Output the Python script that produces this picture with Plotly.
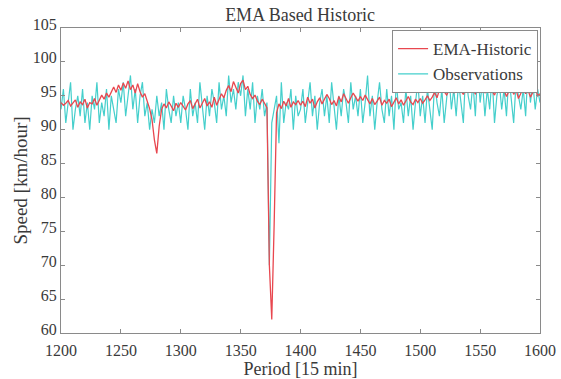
import plotly.graph_objects as go

periods = list(range(1200, 1601, 2))

observations = [
    93, 96, 91, 94, 97, 90, 93, 95, 92, 96, 91, 94, 90, 95, 93, 97, 91, 94, 92, 96, 90, 95, 93, 91, 96,
    94, 97, 92, 95, 98, 93, 96, 91, 95, 97, 92, 94, 90, 93, 91, 95, 92, 94, 90, 96, 93, 91, 95, 92, 94,
    91, 95, 93, 90, 96, 92, 94, 91, 97, 93, 90, 95, 92, 96, 94, 91, 97, 93, 95, 92, 98, 94, 96, 93, 97,
    95, 98, 92, 96, 93, 97, 91, 95, 93, 96, 92, 94, 70, 91, 93, 95, 88, 97, 91, 94, 93, 96, 90, 95, 92,
    93, 96, 91, 94, 97, 92, 95, 90, 94, 96, 92, 95, 91, 97, 93, 90, 95, 92, 96, 94, 91, 97, 93, 95, 92,
    96, 91, 94, 98, 92, 95, 90, 94, 97, 93, 91, 96, 92, 95, 90, 97, 93, 94, 91, 96, 92, 95, 90, 94, 97,
    92, 95, 91, 96, 93, 90, 97, 94, 92, 96, 91, 95, 98, 93, 96, 92, 97, 94, 91, 99, 95, 93, 97, 92, 99,
    94, 97, 92, 96, 93, 98, 91, 95, 97, 93, 96, 92, 98, 94, 91, 97, 95, 93, 96, 92, 99, 94, 97, 93, 96,
    94,
]

ema_historic = [
    94, 93.6, 93.9, 94.3, 93.5, 94, 94.4, 93.3, 94.1, 93.7, 94.5, 93.2, 94, 93.8, 94.6, 93.6, 94.3, 95.1, 94.5, 95.4, 94.8, 95.7, 96.3, 95.5, 96.6,
    95.8, 96.9, 96.1, 97.2, 95.9, 96.6, 95.4, 96.8, 95.6, 94.8, 95.3, 94.2, 93.1, 91.5, 88.5, 86.5, 90.5, 93, 93.8, 93.2, 94.1, 93.5, 92.8, 93.9, 93.3,
    94, 93.4, 92.9, 93.8, 94.3, 93.1, 93.7, 94.5, 93.2, 93.9, 94.6, 93.5, 94.1, 93.3, 94.8, 93.6, 94.4, 95.3, 94.7, 95.8, 96.5, 95.6, 97.1, 96.2, 95.4,
    96.8, 97.3, 95.9, 96.4, 95.2, 94.6, 95.1, 94.2, 93.7, 94.5, 93.9, 93.2, 70, 62, 76, 92.5, 93.8, 93.1, 94.2, 93.5, 94.6, 93.3, 94.1, 93.7, 94.3,
    93.6, 94.2, 93.4, 94.8, 93.9, 94.5, 93.2, 94.1, 94.7, 93.8, 94.4, 95.2, 94.6, 93.7, 94.3, 93.5, 94.9, 94.1, 95.3, 94.6, 93.9, 94.7, 95.4, 94.8, 94.2,
    94.9, 94.3, 95.1, 94.4, 93.8, 94.6, 93.7, 94.2, 94.8, 93.6, 94.3, 93.9, 94.5, 93.4, 94.1, 94.7, 93.8, 94.4, 93.6, 94.2, 94.9, 94.1, 93.7, 94.5, 94.0,
    94.6, 93.9, 94.4, 95.0, 94.3, 94.8, 95.5, 94.7, 95.9, 96.3, 95.6, 95.1, 95.8, 96.2, 95.4, 95.9, 96.4, 95.7, 95.2, 96.1, 95.5, 96.3, 95.8, 95.3, 96.0,
    95.6, 96.2, 95.4, 95.9, 96.5, 95.7, 95.1, 96.0, 95.5, 96.3, 95.8, 94.9, 95.6, 96.4, 95.2, 95.9, 94.6, 95.4, 96.1, 95.3, 95.8, 94.8, 95.6, 96.2, 95.0,
    95.3,
]

x_ticks = [1200, 1250, 1300, 1350, 1400, 1450, 1500, 1550, 1600]
y_ticks = [60, 65, 70, 75, 80, 85, 90, 95, 100, 105]

font_family = "Liberation Serif, Times New Roman, serif"
text_color = "#3a3a3a"

fig = go.Figure()
fig.add_trace(go.Scatter(
    x=periods, y=observations, mode="lines", name="Observations",
    line=dict(color="#45cfcc", width=1.2),
))
fig.add_trace(go.Scatter(
    x=periods, y=ema_historic, mode="lines", name="EMA-Historic",
    line=dict(color="#e8474f", width=1.3),
))

axis_common = dict(
    showgrid=False, zeroline=False, showline=True, linecolor="#8a8a8a",
    linewidth=1, mirror="ticks", ticks="inside", ticklen=4, tickcolor="#8a8a8a",
    tickfont=dict(family=font_family, size=16, color=text_color),
    automargin=False,
)

fig.update_layout(
    width=561, height=379,
    margin=dict(l=61, r=21, t=28, b=46),
    paper_bgcolor="white", plot_bgcolor="white",
    font=dict(family=font_family, color=text_color),
    title=dict(text="EMA Based Historic", x=0.535, xanchor="center", y=0.962, yanchor="middle",
               font=dict(family=font_family, size=18, color=text_color)),
    xaxis=dict(range=[1200, 1600], tickvals=x_ticks, ticktext=[str(v) for v in x_ticks],
               ticklabelstandoff=3,
               title=dict(text="Period [15 min]", font=dict(family=font_family, size=18), standoff=0),
               **axis_common),
    yaxis=dict(range=[60, 105], tickvals=y_ticks, ticktext=[str(v) for v in y_ticks],
               ticklabelshift=-4,
               title=dict(text="Speed [km/hour]", font=dict(family=font_family, size=19), standoff=0),
               **axis_common),
    legend=dict(x=0.996, y=0.993, xanchor="right", yanchor="top", traceorder="reversed",
                bgcolor="white", bordercolor="#8a8a8a", borderwidth=1,
                font=dict(family=font_family, size=17, color=text_color),
                itemwidth=30, tracegroupgap=0),
    showlegend=True,
)

fig.write_html("out.html", config={"displayModeBar": False},
               post_script="document.body.style.margin='0';")
